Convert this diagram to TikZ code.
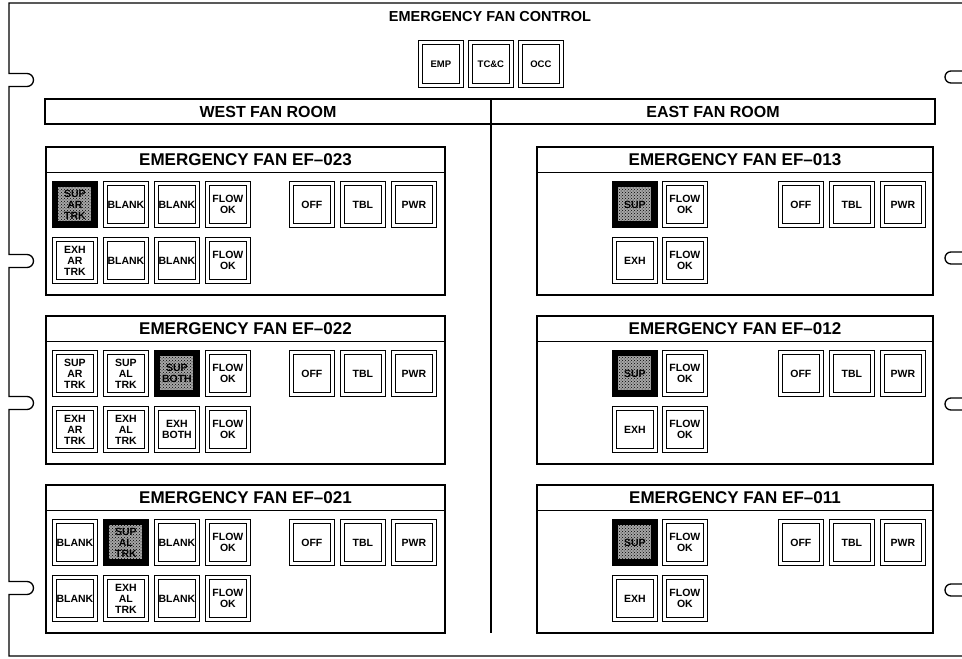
\documentclass[tikz,border=0pt]{standalone}
\usepackage{fontspec}
\setmainfont{Liberation Sans}
\usetikzlibrary{patterns}

\newcommand{\btnfont}{\fontsize{10.5}{11}\selectfont\bfseries}
\newcommand{\ctlfont}{\fontsize{9.5}{9}\selectfont\bfseries}

% one fan box: name, left, right, top, title
\newcommand{\fanpanel}[5]{%
  \draw[panelbox] (#2,#4) rectangle (#3,#4+148);
  \draw[stripline] (#2,#4+25) -- (#3,#4+25);
  \node[paneltitle] (#1) at ({(#2+#3)/2},#4+12.5) {#5};}

% OFF / TBL / PWR group: name, first x, top
\newcommand{\statusbtns}[3]{%
  \foreach \lab [count=\i from 0] in {OFF,TBL,PWR}
    \node[btn] (#1-\lab) at (#2+51*\i,#3+34) {\lab};}

\begin{document}
\begin{tikzpicture}[x=1pt, y=-1pt, line join=miter,
  frame/.style={draw=black, line width=1.3pt},
  bar/.style={draw=black, line width=2pt},
  panelbox/.style={draw=black, line width=1.8pt},
  stripline/.style={draw=black, line width=1pt},
  ctitle/.style={font=\fontsize{14.5}{15}\selectfont\bfseries},
  roomtitle/.style={font=\fontsize{16}{16}\selectfont\bfseries},
  paneltitle/.style={font=\fontsize{17}{17}\selectfont\bfseries},
  btn/.style={draw, line width=.8pt, minimum width=45pt, minimum height=46pt,
    inner sep=0pt, anchor=north west, align=center, font=\btnfont,
    path picture={\draw[line width=1.6pt]
      ([shift={(4pt,4pt)}]path picture bounding box.south west) rectangle
      ([shift={(-4pt,-4pt)}]path picture bounding box.north east);}},
  lit/.style={btn, fill=black, path picture={
      \fill[black!35] ([shift={(6pt,6pt)}]path picture bounding box.south west) rectangle
        ([shift={(-6pt,-6pt)}]path picture bounding box.north east);
      \fill[pattern=crosshatch dots, pattern color=black]
        ([shift={(6pt,6pt)}]path picture bounding box.south west) rectangle
        ([shift={(-6pt,-6pt)}]path picture bounding box.north east);}}]
\useasboundingbox (0,0) rectangle (962,659);

% rack frame with its mounting tabs
\draw[frame] (962,3) -- (9,3)
  \foreach \y in {80,261,403,588} { -- (9,\y-6.5) -- (27,\y-6.5)
    arc[start angle=90, end angle=-90, radius=6.5pt] -- (9,\y+6.5) }
  -- (9,656) -- (962,656);
\foreach \y in {77,258,404,590}
  \draw[frame] (962,\y-6) -- (951,\y-6) arc[start angle=90, end angle=270, radius=6pt] -- (962,\y+6);

% control station
\node[ctitle] (ctrl) at (490,17) {EMERGENCY FAN CONTROL};
\node[btn, minimum height=47pt, font=\ctlfont] (emp) at (418,40) {EMP};
\node[btn, minimum height=47pt, font=\ctlfont] (tcc) at (468,40) {TC\&C};
\node[btn, minimum height=47pt, font=\ctlfont] (occ) at (518,40) {OCC};

\draw[bar] (45,99) rectangle (935,124);
\draw[bar] (491,99) -- (491,633);
\node[roomtitle] (west) at (268,111.5) {WEST FAN ROOM};
\node[roomtitle] (east) at (713,111.5) {EAST FAN ROOM};

% west fan room
\fanpanel{ef023}{46}{445}{147}{EMERGENCY FAN EF--023}
\node[lit] (ef023-a1) at (52,181) {SUP\\AR\\TRK};
\node[btn] (ef023-a2) at (103,181) {BLANK};
\node[btn] (ef023-a3) at (154,181) {BLANK};
\node[btn] (ef023-a4) at (205,181) {FLOW\\OK};
\node[btn] (ef023-b1) at (52,237) {EXH\\AR\\TRK};
\node[btn] (ef023-b2) at (103,237) {BLANK};
\node[btn] (ef023-b3) at (154,237) {BLANK};
\node[btn] (ef023-b4) at (205,237) {FLOW\\OK};
\statusbtns{ef023}{289}{147}

\fanpanel{ef022}{46}{445}{316}{EMERGENCY FAN EF--022}
\node[btn] (ef022-a1) at (52,350) {SUP\\AR\\TRK};
\node[btn] (ef022-a2) at (103,350) {SUP\\AL\\TRK};
\node[lit] (ef022-a3) at (154,350) {SUP\\BOTH};
\node[btn] (ef022-a4) at (205,350) {FLOW\\OK};
\node[btn] (ef022-b1) at (52,406) {EXH\\AR\\TRK};
\node[btn] (ef022-b2) at (103,406) {EXH\\AL\\TRK};
\node[btn] (ef022-b3) at (154,406) {EXH\\BOTH};
\node[btn] (ef022-b4) at (205,406) {FLOW\\OK};
\statusbtns{ef022}{289}{316}

\fanpanel{ef021}{46}{445}{485}{EMERGENCY FAN EF--021}
\node[btn] (ef021-a1) at (52,519) {BLANK};
\node[lit] (ef021-a2) at (103,519) {SUP\\AL\\TRK};
\node[btn] (ef021-a3) at (154,519) {BLANK};
\node[btn] (ef021-a4) at (205,519) {FLOW\\OK};
\node[btn] (ef021-b1) at (52,575) {BLANK};
\node[btn] (ef021-b2) at (103,575) {EXH\\AL\\TRK};
\node[btn] (ef021-b3) at (154,575) {BLANK};
\node[btn] (ef021-b4) at (205,575) {FLOW\\OK};
\statusbtns{ef021}{289}{485}

% east fan room
\fanpanel{ef013}{537}{933}{147}{EMERGENCY FAN EF--013}
\node[lit] (ef013-a1) at (612,181) {SUP};
\node[btn] (ef013-a2) at (662,181) {FLOW\\OK};
\node[btn] (ef013-b1) at (612,237) {EXH};
\node[btn] (ef013-b2) at (662,237) {FLOW\\OK};
\statusbtns{ef013}{778}{147}

\fanpanel{ef012}{537}{933}{316}{EMERGENCY FAN EF--012}
\node[lit] (ef012-a1) at (612,350) {SUP};
\node[btn] (ef012-a2) at (662,350) {FLOW\\OK};
\node[btn] (ef012-b1) at (612,406) {EXH};
\node[btn] (ef012-b2) at (662,406) {FLOW\\OK};
\statusbtns{ef012}{778}{316}

\fanpanel{ef011}{537}{933}{485}{EMERGENCY FAN EF--011}
\node[lit] (ef011-a1) at (612,519) {SUP};
\node[btn] (ef011-a2) at (662,519) {FLOW\\OK};
\node[btn] (ef011-b1) at (612,575) {EXH};
\node[btn] (ef011-b2) at (662,575) {FLOW\\OK};
\statusbtns{ef011}{778}{485}
\end{tikzpicture}
\end{document}
